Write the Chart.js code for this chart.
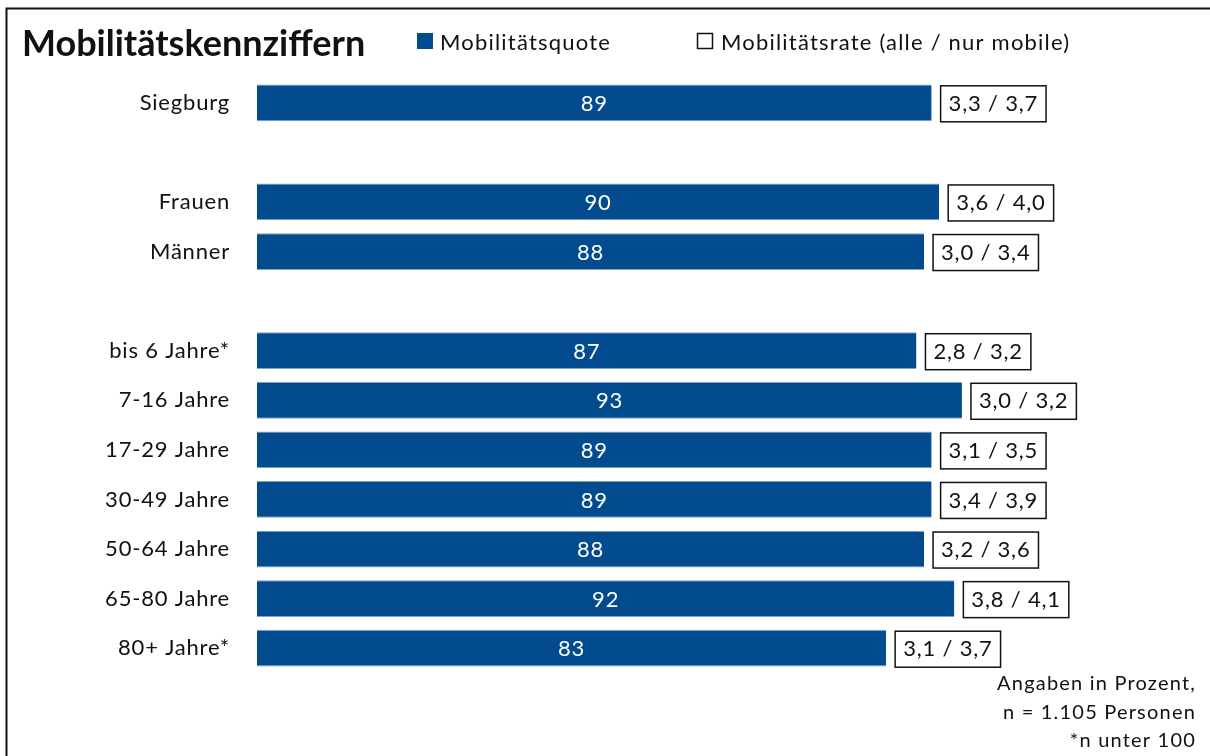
<!DOCTYPE html>
<html>
<head>
<meta charset="utf-8">
<script src="https://cdn.jsdelivr.net/npm/chart.js@4.4.1/dist/chart.umd.min.js"></script>
<style>
  html, body { margin: 0; padding: 0; background: #fff; }
  #wrap { width: 1210px; height: 756px; position: relative; }
</style>
</head>
<body>
<div id="wrap"><canvas id="chart" width="1210" height="756"></canvas></div>
<script>
// categories (empty strings are the spacer rows)
const categories = ['Siegburg', '', 'Frauen', 'Männer', '', 'bis 6 Jahre*', '7-16 Jahre', '17-29 Jahre', '30-49 Jahre', '50-64 Jahre', '65-80 Jahre', '80+ Jahre*'];
const quote = [89, null, 90, 88, null, 87, 93, 89, 89, 88, 92, 83];
const rateAll = [3.3, null, 3.6, 3.0, null, 2.8, 3.0, 3.1, 3.4, 3.2, 3.8, 3.1];
const rateMobile = [3.7, null, 4.0, 3.4, null, 3.2, 3.2, 3.5, 3.9, 3.6, 4.1, 3.7];
const footnotes = ['Angaben in Prozent,', 'n = 1.105 Personen', '*n unter 100'];

const BLUE = '#024b8e';
const FONT = 'Lato, "Open Sans", sans-serif';
const fmt = v => v.toFixed(1).replace('.', ',');

// labels inside bars + rate boxes, title, legend, footnote
const decor = {
    id: 'decor',
    beforeDraw(chart) {
        // reference text is set a little wider than Lato
        chart.ctx.letterSpacing = '0.8px';
    },
    afterDatasetsDraw(chart) {
        const ctx = chart.ctx;
        const meta = chart.getDatasetMeta(0);
        ctx.save();
        ctx.letterSpacing = '0.8px';
        ctx.font = '22px ' + FONT;
        ctx.textBaseline = 'middle';
        meta.data.forEach((bar, i) => {
            if (quote[i] == null) return;
            // value inside bar
            ctx.fillStyle = '#fff';
            ctx.textAlign = 'center';
            ctx.fillText(String(quote[i]), (bar.base + bar.x) / 2, bar.y + 1);
            // rate box
            const txt = fmt(rateAll[i]) + ' / ' + fmt(rateMobile[i]);
            const w = ctx.measureText(txt).width + 16;
            const h = 36;
            const bx = bar.x + 9;
            const by = bar.y - h / 2 + 1;
            ctx.fillStyle = '#fff';
            ctx.fillRect(bx, by, w, h);
            ctx.strokeStyle = '#111';
            ctx.lineWidth = 1.5;
            ctx.strokeRect(bx, by, w, h);
            ctx.fillStyle = '#111';
            ctx.fillText(txt, bx + w / 2, bar.y + 1);
        });
        ctx.restore();
    },
    afterDraw(chart) {
        const ctx = chart.ctx;
        ctx.save();
        // frame
        ctx.strokeStyle = '#111';
        ctx.lineWidth = 2;
        ctx.beginPath();
        ctx.moveTo(1210, 8.5);
        ctx.lineTo(6.5, 8.5);
        ctx.lineTo(6.5, 756);
        ctx.stroke();
        // title
        ctx.fillStyle = '#111';
        ctx.textBaseline = 'alphabetic';
        ctx.textAlign = 'left';
        ctx.letterSpacing = '0px';
        ctx.font = 'bold 36px ' + FONT;
        ctx.fillText('Mobilitätskennziffern', 22, 56);
        // legend
        ctx.letterSpacing = '1.2px';
        ctx.font = '22px ' + FONT;
        ctx.fillStyle = BLUE;
        ctx.fillRect(417, 33, 16, 16);
        ctx.fillStyle = '#111';
        ctx.fillText('Mobilitätsquote', 440, 50);
        ctx.strokeStyle = '#111';
        ctx.lineWidth = 1.5;
        ctx.strokeRect(697.5, 33.5, 15, 15);
        ctx.fillText('Mobilitätsrate (alle / nur mobile)', 721, 50);
        // footnote
        ctx.font = '20px ' + FONT;
        ctx.letterSpacing = '1.2px';
        ctx.textAlign = 'right';
        ctx.textBaseline = 'middle';
        footnotes.forEach((t, k) => ctx.fillText(t, 1196, 684 + k * 28.5));
        ctx.restore();
    }
};

new Chart(document.getElementById('chart'), {
    type: 'bar',
    data: {
        labels: categories,
        datasets: [{
            label: 'Mobilitätsquote',
            data: quote,
            backgroundColor: BLUE,
            borderColor: '#7fa3c8',
            borderWidth: { top: 1, bottom: 1, left: 0, right: 0 },
            borderSkipped: false,
            categoryPercentage: 1,
            barPercentage: 0.74
        }]
    },
    options: {
        indexAxis: 'y',
        responsive: false,
        animation: false,
        layout: { padding: { left: 0, right: 195, top: 78, bottom: 83 } },
        plugins: {
            legend: { display: false },
            tooltip: { enabled: false }
        },
        scales: {
            x: {
                min: 0,
                max: 100,
                display: false
            },
            y: {
                grid: { display: false, drawTicks: false },
                border: { display: false },
                afterFit: scale => { scale.width = 257; },
                ticks: {
                    autoSkip: false,
                    padding: 27,
                    color: '#111',
                    font: { family: FONT, size: 22 }
                }
            }
        }
    },
    plugins: [decor]
});
</script>
</body>
</html>
